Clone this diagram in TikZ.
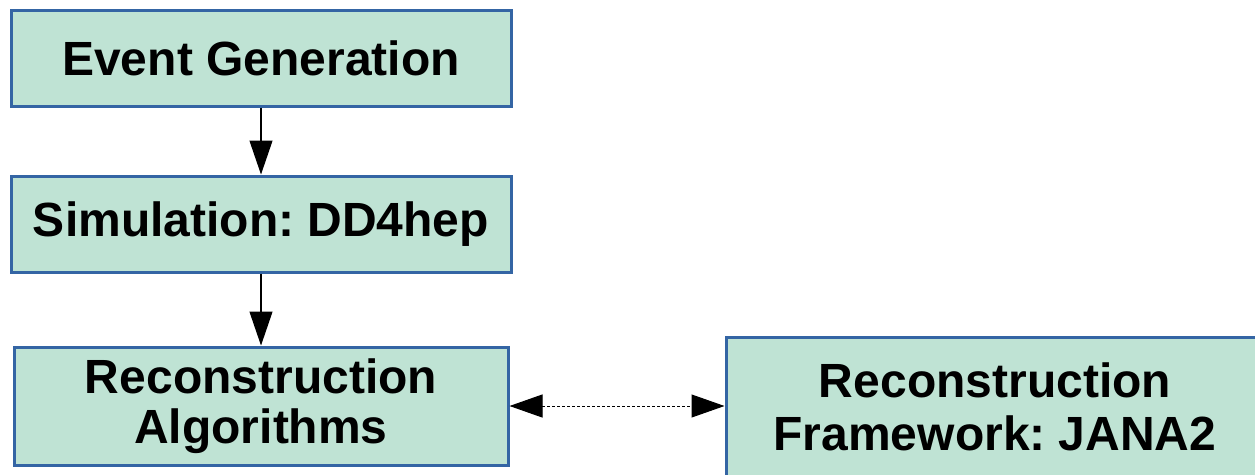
\documentclass[tikz,border=0pt]{standalone}
\usepackage{fontspec}
\setmainfont{Liberation Sans}
\usetikzlibrary{arrows.meta}
\definecolor{boxfill}{HTML}{BFE3D4}
\definecolor{boxline}{HTML}{3465A4}
\frenchspacing

\begin{document}
\begin{tikzpicture}[x=1pt, y=-1pt,
        block/.style={draw=boxline, fill=boxfill, line width=3pt, align=center,
            inner sep=0pt, font=\fontsize{48}{#1}\selectfont\bfseries},
        block/.default=50,
        flow/.style={-{Triangle[length=34pt, width=23pt]}, line width=1.2pt},
        link/.style={{Triangle[length=33pt, width=23pt]}-{Triangle[length=33pt, width=23pt]},
            line width=1pt, dash pattern=on 3pt off 2pt}]
    \useasboundingbox (0,0) rectangle (1255,474);
    \clip (0,0) rectangle (1255,474);
    \node[block, minimum width=500pt, minimum height=96pt] (gen) at (261,58) {Event Generation};
    \node[block, minimum width=500pt, minimum height=96pt] (sim) at (261,224) {Simulation: DD4hep};
    \node[block=50, minimum width=494pt, minimum height=118pt] (reco) at (261,406) {Reconstruction\\Algorithms};
    \node[block=53, minimum width=538pt, minimum height=140pt] (jana) at (995,407) {Reconstruction\\Framework: JANA2};
    \draw[flow] (gen) -- (sim);
    \draw[flow] (sim) -- (reco);
    \draw[link] (reco.east) -- (reco.east -| jana.west);
\end{tikzpicture}
\end{document}
